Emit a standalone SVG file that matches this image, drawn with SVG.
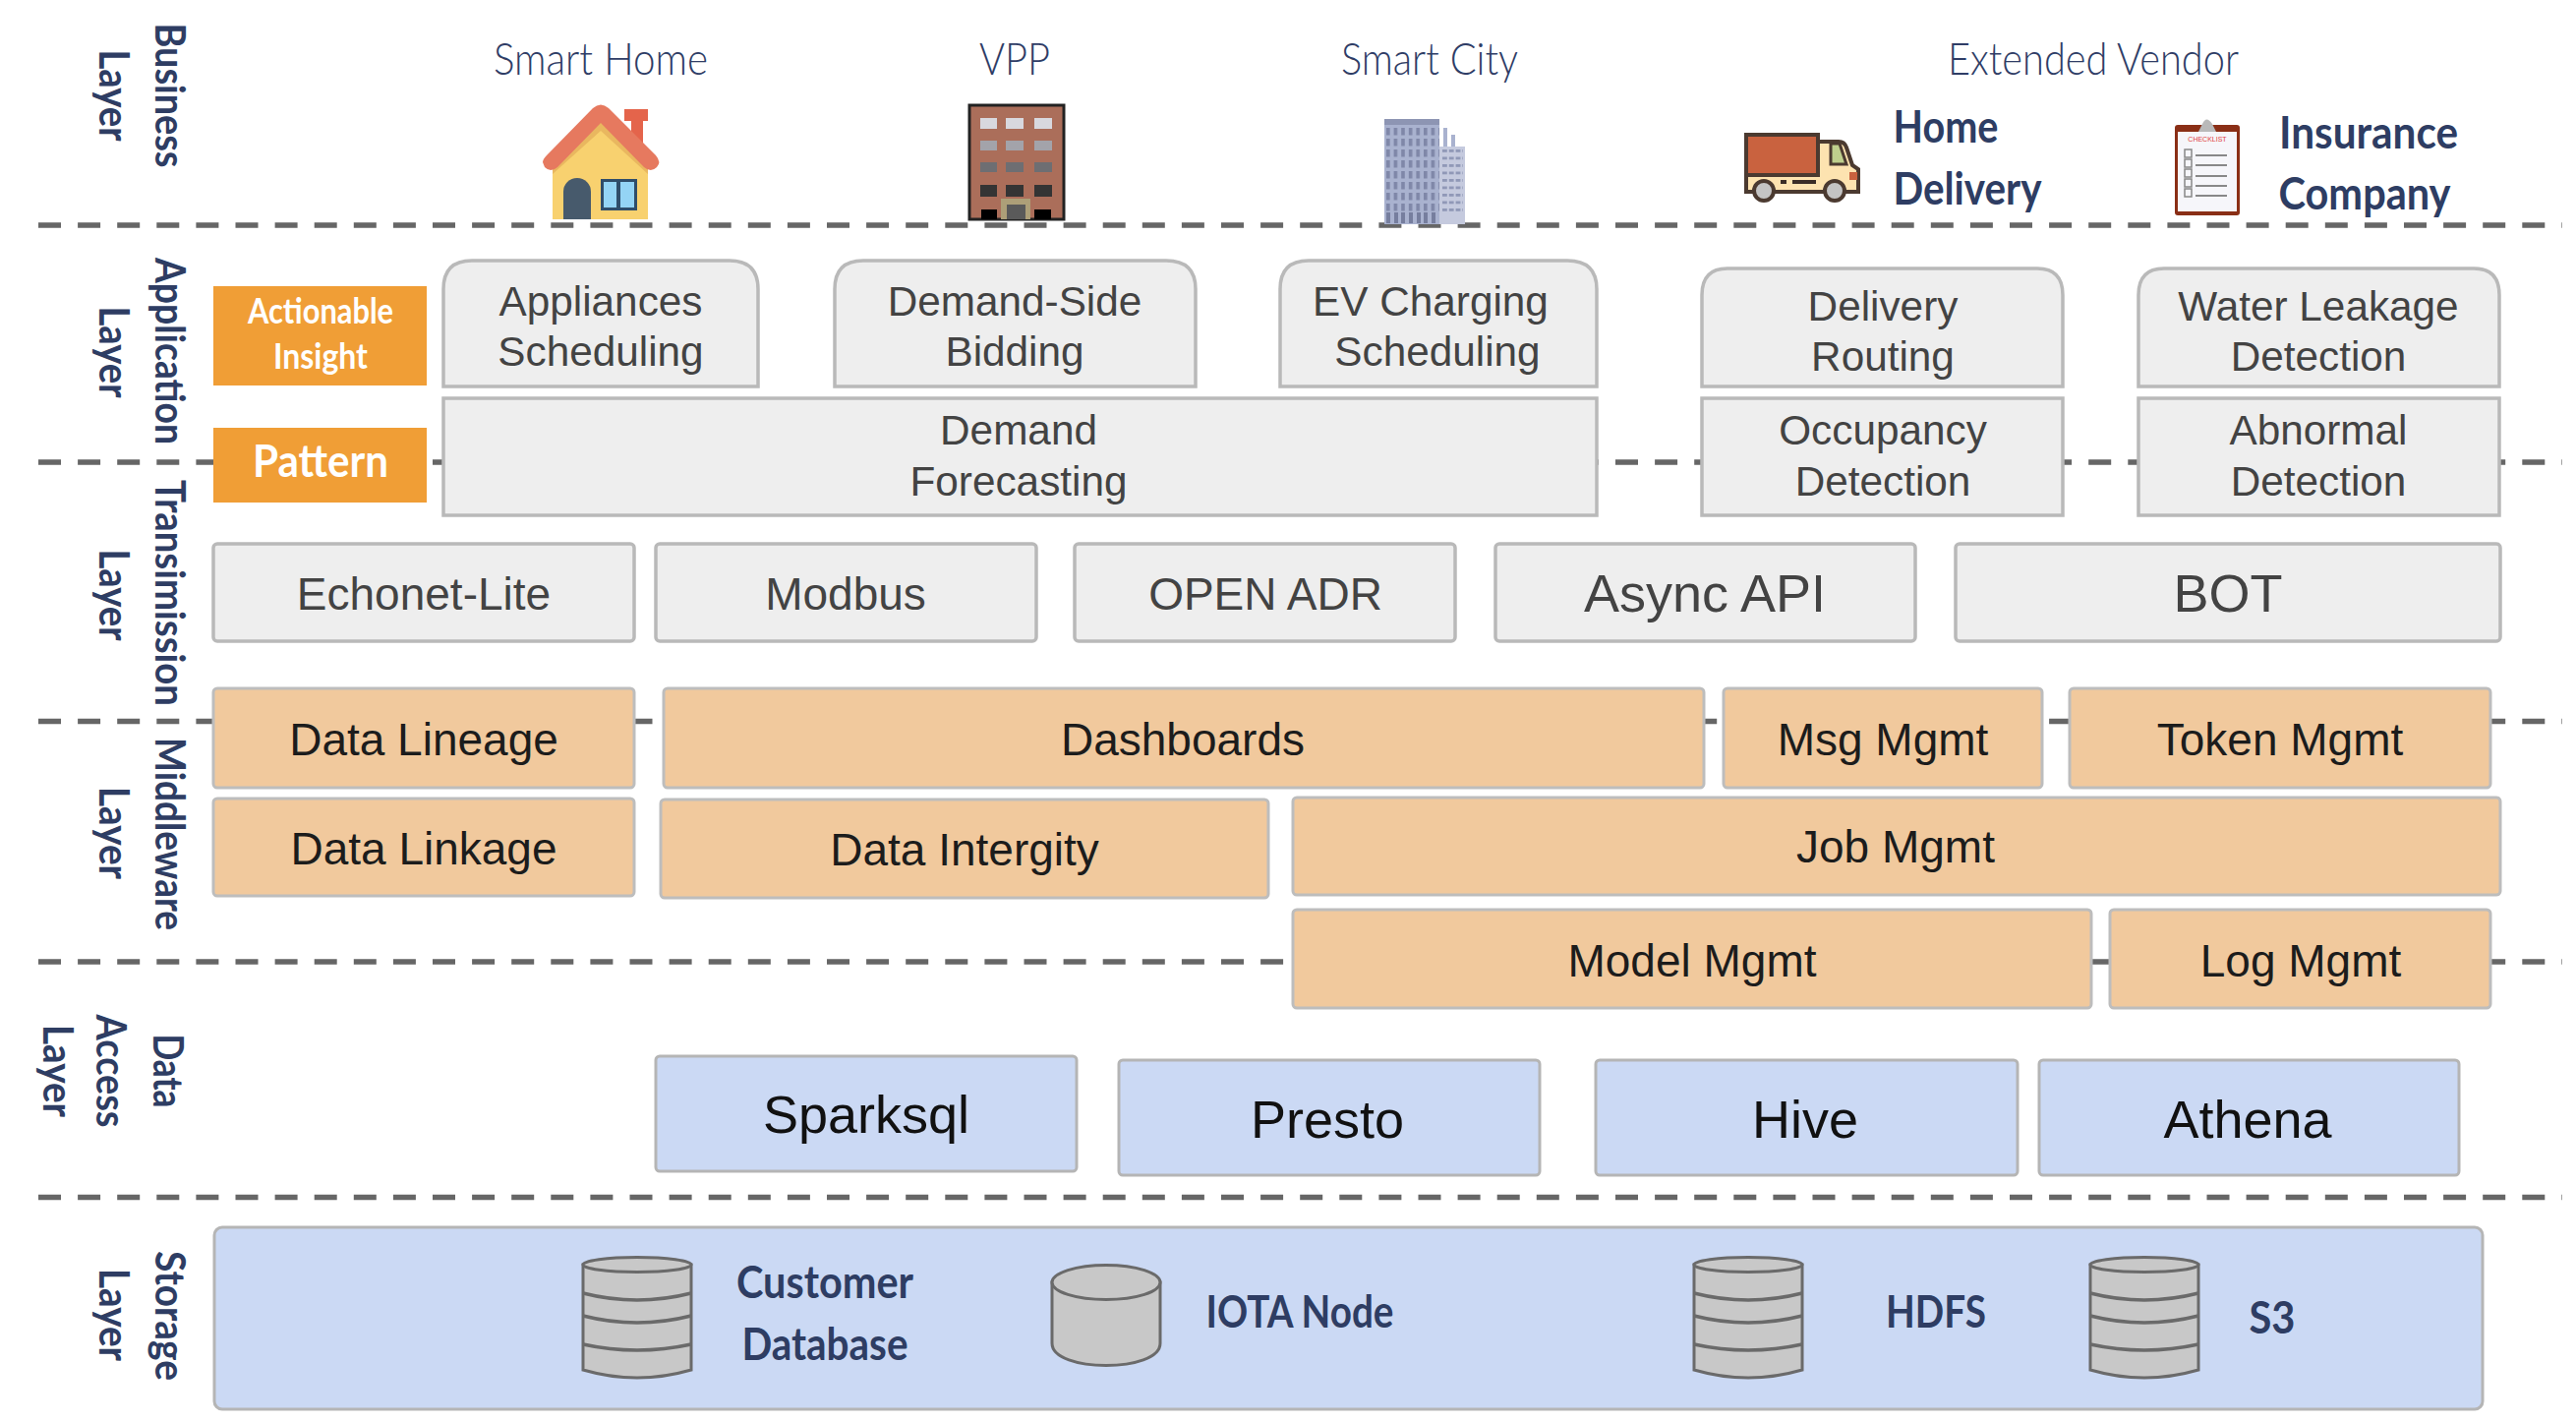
<svg xmlns="http://www.w3.org/2000/svg" width="2620" height="1446" viewBox="0 0 2620 1446">
<style>
text{font-family:"Liberation Sans",Arial,sans-serif;text-anchor:middle}
.g{fill:#eeeeee;stroke:#b9b9b9;stroke-width:3.5}
.o{fill:#f1c99d;stroke:#bdbdbd;stroke-width:3}
.b{fill:#cbd9f4;stroke:#b5b5b5;stroke-width:3}
.a{fill:#f09e36}
.t{fill:#434343;font-size:42.300px}
.tl{fill:#434343;font-size:46px}
.tb{fill:#434343;font-size:54px}
.m{fill:#1c1c1c;font-size:46px}
.q{fill:#111;font-size:54px}
.h{font-family:Lato,"Open Sans",sans-serif;font-weight:300;font-size:45px;fill:#2f3d66}
.n{font-family:Lato,"Open Sans",sans-serif;font-weight:700;font-size:45px;fill:#2e3d63}
.r{font-family:Lato,"Open Sans",sans-serif;font-weight:700;font-size:42px;fill:#2e3d63;text-anchor:middle}
.w{font-family:Lato,"Open Sans",sans-serif;font-weight:700;fill:#fff}
.dash{stroke:#666;stroke-width:5.500;stroke-dasharray:23 17.100;fill:none}
.cy{fill:#c8c8c8;stroke:#6a6a6a;stroke-width:3}
.cl{fill:none;stroke:#6a6a6a;stroke-width:3.500}
</style>
<defs>
<pattern id="cw" x="1410" y="130" width="7.600" height="11" patternUnits="userSpaceOnUse"><rect x="0" y="0" width="3.600" height="7.500" fill="#7f87a8"/></pattern>
<pattern id="cw2" x="1467" y="152" width="6.800" height="7.500" patternUnits="userSpaceOnUse"><rect x="0" y="0" width="4.800" height="2.800" fill="#9098b7"/></pattern>
<g id="stack">
<path class="cy" d="M0 8V115Q55 131 110 115V8Z"/>
<ellipse class="cy" cx="55" cy="8" rx="55" ry="7.500"/>
<path class="cl" d="M0 37Q55 51 110 37M0 60Q55 74 110 60M0 89Q55 101 110 89"/>
</g>
</defs>
<rect width="2620" height="1446" fill="#fff"/>
<g id="connectors">
<path class="dash" d="M39 229H2606"/>
<path class="dash" d="M39 470H2606"/>
<path class="dash" d="M39 733.500H2606"/>
<path class="dash" d="M39 978H2606"/>
<path class="dash" d="M39 1217.500H2606"/>
</g>
<g id="layer-labels">
<text class="r" transform="translate(158 97) rotate(90)" textLength="147" lengthAdjust="spacingAndGlyphs">Business</text>
<text class="r" transform="translate(101 97) rotate(90)" textLength="93" lengthAdjust="spacingAndGlyphs">Layer</text>
<text class="r" transform="translate(158 357) rotate(90)" textLength="190" lengthAdjust="spacingAndGlyphs">Application</text>
<text class="r" transform="translate(101 358) rotate(90)" textLength="93" lengthAdjust="spacingAndGlyphs">Layer</text>
<text class="r" transform="translate(158 603) rotate(90)" textLength="230" lengthAdjust="spacingAndGlyphs">Transimission</text>
<text class="r" transform="translate(101 605) rotate(90)" textLength="93" lengthAdjust="spacingAndGlyphs">Layer</text>
<text class="r" transform="translate(158 848) rotate(90)" textLength="196" lengthAdjust="spacingAndGlyphs">Middleware</text>
<text class="r" transform="translate(101 847) rotate(90)" textLength="94" lengthAdjust="spacingAndGlyphs">Layer</text>
<text class="r" transform="translate(156 1089) rotate(90)" textLength="75" lengthAdjust="spacingAndGlyphs">Data</text>
<text class="r" transform="translate(98 1089) rotate(90)" textLength="115" lengthAdjust="spacingAndGlyphs">Access</text>
<text class="r" transform="translate(44 1089) rotate(90)" textLength="94" lengthAdjust="spacingAndGlyphs">Layer</text>
<text class="r" transform="translate(158 1338) rotate(90)" textLength="132" lengthAdjust="spacingAndGlyphs">Storage</text>
<text class="r" transform="translate(101 1337) rotate(90)" textLength="94" lengthAdjust="spacingAndGlyphs">Layer</text>
</g>
<g id="smart-home">
<text class="h" x="611" y="76" textLength="218" lengthAdjust="spacingAndGlyphs">Smart Home</text>
<rect x="642" y="120" width="12" height="30" fill="#e4644b"/>
<rect x="635" y="111" width="24" height="12" fill="#e4644b"/>
<path d="M562 223V168L611 118L659 168V223Z" fill="#f8d16f"/>
<path d="M562 177V160L611 118L659 160V177L611 133Z" fill="#e9b75f"/>
<path d="M552 165Q552 162 556 158L603 110Q611 103 619 110L667 158Q673 165 668 170Q662 176 655 170L611 125L567 170Q560 176 554 170Z" fill="#e6795f"/>
<path d="M573 223V195A14 14 0 0 1 601 195V223Z" fill="#475a6c"/>
<rect x="611" y="182" width="37" height="32" fill="#2f4d6a"/>
<rect x="614" y="185" width="13" height="26" fill="#94d4f5"/>
<rect x="631" y="185" width="14" height="26" fill="#94d4f5"/>
</g>
<g id="vpp">
<text class="h" x="1032" y="76" textLength="72" lengthAdjust="spacingAndGlyphs">VPP</text>
<rect x="986" y="107" width="96" height="116" fill="#ab6e5a" stroke="#222" stroke-width="3"/>
<g fill="#d8d8de"><rect x="997" y="120" width="17" height="11"/><rect x="1023" y="120" width="18" height="11"/><rect x="1052" y="120" width="18" height="11"/></g>
<g fill="#a3a3aa"><rect x="997" y="143" width="17" height="10"/><rect x="1023" y="143" width="18" height="10"/><rect x="1052" y="143" width="18" height="10"/></g>
<g fill="#6e6e72"><rect x="997" y="165" width="17" height="10"/><rect x="1023" y="165" width="18" height="10"/><rect x="1052" y="165" width="18" height="10"/></g>
<g fill="#343434"><rect x="997" y="188" width="17" height="12"/><rect x="1023" y="188" width="18" height="12"/><rect x="1052" y="188" width="18" height="12"/></g>
<rect x="998" y="213" width="16" height="10" fill="#000"/><rect x="1052" y="213" width="17" height="10" fill="#000"/>
<rect x="1018" y="202" width="30" height="21" fill="#ad9f78"/><rect x="1024" y="208" width="19" height="15" fill="#5a5a5a"/>
</g>
<g id="smart-city">
<text class="h" x="1454" y="76" textLength="180" lengthAdjust="spacingAndGlyphs">Smart City</text>
<rect x="1468" y="130" width="4" height="22" fill="#a9b2cf"/><rect x="1476" y="137" width="4" height="15" fill="#a9b2cf"/>
<rect x="1408" y="121" width="56" height="107" fill="#a9b2cf"/>
<rect x="1408" y="121" width="56" height="6" fill="#8d95b3"/>
<rect x="1410" y="130" width="54" height="85" fill="url(#cw)"/>
<g fill="#767e9e"><rect x="1410" y="216" width="4" height="11"/><rect x="1418" y="216" width="4" height="11"/><rect x="1425" y="216" width="4" height="11"/><rect x="1433" y="216" width="4" height="11"/><rect x="1441" y="216" width="4" height="11"/><rect x="1448" y="216" width="4" height="11"/><rect x="1456" y="216" width="4" height="11"/></g>
<rect x="1464" y="149" width="26" height="79" fill="#c5cade"/>
<rect x="1467" y="152" width="21" height="65" fill="url(#cw2)"/>
</g>
<g id="extended-vendor"><text class="h" x="2129" y="76" textLength="296" lengthAdjust="spacingAndGlyphs">Extended Vendor</text></g>
<g id="home-delivery">
<path d="M1849 144H1870Q1876 144 1878 150L1884 168L1890 172V195H1776V178H1849Z" fill="#fde3b0" stroke="#4b3a30" stroke-width="4"/>
<rect x="1776" y="137" width="73" height="41" fill="#c9623f" stroke="#4b3a30" stroke-width="4"/>
<path d="M1862 146H1871L1878 167H1862Z" fill="#bfcf8d" stroke="#4b3a30" stroke-width="3"/>
<path d="M1823 185H1847M1811 185H1817" stroke="#3a2d26" stroke-width="4"/>
<rect x="1881" y="175" width="8" height="8" fill="#c9623f"/>
<circle cx="1794" cy="194" r="10" fill="#c4c4c4" stroke="#4b3a30" stroke-width="4"/>
<circle cx="1866" cy="194" r="10" fill="#c4c4c4" stroke="#4b3a30" stroke-width="4"/>
<text class="n" x="1979" y="145" textLength="107" lengthAdjust="spacingAndGlyphs">Home</text>
<text class="n" x="2001" y="208" textLength="151" lengthAdjust="spacingAndGlyphs">Delivery</text>
</g>
<g id="insurance-company">
<rect x="2212" y="127" width="66" height="92" rx="3" fill="#8a2f16"/>
<rect x="2215" y="134" width="60" height="81" fill="#f6f6fa"/>
<path d="M2236 134L2240 126Q2244 117 2250 126L2254 134Z" fill="#b9b9b9"/>
<text x="2245" y="144" style="font-size:7px;fill:#e03c3c">CHECKLIST</text>
<g fill="none" stroke="#888" stroke-width="1.500"><rect x="2222" y="152" width="7" height="8"/><rect x="2222" y="162" width="7" height="8"/><rect x="2222" y="172" width="7" height="8"/><rect x="2222" y="182" width="7" height="8"/><rect x="2222" y="192" width="7" height="8"/></g>
<path d="M2233 158H2265M2233 168H2265M2233 179H2265M2233 189H2265M2233 199H2265" stroke="#888" stroke-width="2"/>
<text class="n" x="2409" y="151" textLength="182" lengthAdjust="spacingAndGlyphs">Insurance</text>
<text class="n" x="2405" y="213" textLength="175" lengthAdjust="spacingAndGlyphs">Company</text>
</g>
<g id="actionable-insight"><rect class="a" x="217" y="291" width="217" height="101"/>
<text class="w" x="326" y="329" font-size="36" textLength="148" lengthAdjust="spacingAndGlyphs">Actionable</text>
<text class="w" x="326" y="375" font-size="36" textLength="96" lengthAdjust="spacingAndGlyphs">Insight</text></g>
<g id="pattern"><rect class="a" x="217" y="435" width="217" height="76"/><text class="w" x="326" y="485" font-size="45" textLength="138" lengthAdjust="spacingAndGlyphs">Pattern</text></g>
<g id="appliances-scheduling"><path class="g" d="M451 393V294Q451 265 480 265H742Q771 265 771 294V393Z"/><text class="t" x="611" y="321">Appliances</text><text class="t" x="611" y="372">Scheduling</text></g>
<g id="demand-side-bidding"><path class="g" d="M849 393V294Q849 265 878 265H1186Q1216 265 1216 294V393Z"/><text class="t" x="1032" y="321">Demand-Side</text><text class="t" x="1032" y="372">Bidding</text></g>
<g id="ev-charging"><path class="g" d="M1302 393V294Q1302 265 1331 265H1594Q1624 265 1624 294V393Z"/><text class="t" x="1455" y="321">EV Charging</text><text class="t" x="1462" y="372">Scheduling</text></g>
<g id="delivery-routing"><path class="g" d="M1731 393V300Q1731 273 1757 273H2072Q2098 273 2098 300V393Z"/><text class="t" x="1915" y="326">Delivery</text><text class="t" x="1915" y="377">Routing</text></g>
<g id="water-leakage"><path class="g" d="M2175 393V300Q2175 273 2201 273H2516Q2542 273 2542 300V393Z"/><text class="t" x="2358" y="326">Water Leakage</text><text class="t" x="2358" y="377">Detection</text></g>
<g id="demand-forecasting"><rect class="g" x="451" y="405" width="1173" height="119"/><text class="t" x="1036" y="452">Demand</text><text class="t" x="1036" y="504">Forecasting</text></g>
<g id="occupancy"><rect class="g" x="1731" y="405" width="367" height="119"/><text class="t" x="1915" y="452">Occupancy</text><text class="t" x="1915" y="504">Detection</text></g>
<g id="abnormal"><rect class="g" x="2175" y="405" width="367" height="119"/><text class="t" x="2358" y="452">Abnormal</text><text class="t" x="2358" y="504">Detection</text></g>
<g id="echonet"><rect class="g" x="217" y="553" width="428" height="99" rx="4"/><text class="tl" x="431" y="620">Echonet-Lite</text></g>
<g id="modbus"><rect class="g" x="667" y="553" width="387" height="99" rx="4"/><text class="tl" x="860" y="620">Modbus</text></g>
<g id="open-adr"><rect class="g" x="1093" y="553" width="387" height="99" rx="4"/><text class="tl" x="1287" y="620">OPEN ADR</text></g>
<g id="async-api"><rect class="g" x="1521" y="553" width="427" height="99" rx="4"/><text class="tb" x="1734" y="622">Async API</text></g>
<g id="bot"><rect class="g" x="1989" y="553" width="554" height="99" rx="4"/><text class="tb" x="2266" y="622">BOT</text></g>
<g id="data-lineage"><rect class="o" x="217" y="700" width="428" height="101" rx="4"/><text class="m" x="431" y="768">Data Lineage</text></g>
<g id="dashboards"><rect class="o" x="675" y="700" width="1058" height="101" rx="4"/><text class="m" x="1203" y="768">Dashboards</text></g>
<g id="msg-mgmt"><rect class="o" x="1753" y="700" width="324" height="101" rx="4"/><text class="m" x="1915" y="768">Msg Mgmt</text></g>
<g id="token-mgmt"><rect class="o" x="2105" y="700" width="428" height="101" rx="4"/><text class="m" x="2319" y="768">Token Mgmt</text></g>
<g id="data-linkage"><rect class="o" x="217" y="812" width="428" height="99" rx="4"/><text class="m" x="431" y="879">Data Linkage</text></g>
<g id="data-integrity"><rect class="o" x="672" y="813" width="618" height="100" rx="4"/><text class="m" x="981" y="880">Data Intergity</text></g>
<g id="job-mgmt"><rect class="o" x="1315" y="811" width="1228" height="99" rx="4"/><text class="m" x="1928" y="877">Job Mgmt</text></g>
<g id="model-mgmt"><rect class="o" x="1315" y="925" width="812" height="100" rx="4"/><text class="m" x="1721" y="993">Model Mgmt</text></g>
<g id="log-mgmt"><rect class="o" x="2146" y="925" width="387" height="100" rx="4"/><text class="m" x="2340" y="993">Log Mgmt</text></g>
<g id="sparksql"><rect class="b" x="667" y="1074" width="428" height="117" rx="4"/><text class="q" x="881" y="1152">Sparksql</text></g>
<g id="presto"><rect class="b" x="1138" y="1078" width="428" height="117" rx="4"/><text class="q" x="1350" y="1157">Presto</text></g>
<g id="hive"><rect class="b" x="1623" y="1078" width="429" height="117" rx="4"/><text class="q" x="1836" y="1157">Hive</text></g>
<g id="athena"><rect class="b" x="2074" y="1078" width="427" height="117" rx="4"/><text class="q" x="2286" y="1157">Athena</text></g>
<g id="storage">
<rect class="b" x="218" y="1248" width="2307" height="185" rx="8"/>
<g id="customer-database"><use href="#stack" x="593" y="1278"/>
<text class="n" x="839" y="1320" textLength="180" lengthAdjust="spacingAndGlyphs">Customer</text><text class="n" x="839" y="1383" textLength="169" lengthAdjust="spacingAndGlyphs">Database</text></g>
<g id="iota-node"><path class="cy" d="M1070 1304V1366C1070 1396 1180 1396 1180 1366V1304Z"/><ellipse class="cy" cx="1125" cy="1304" rx="55" ry="17.500"/>
<text class="n" x="1322" y="1350" textLength="191" lengthAdjust="spacingAndGlyphs">IOTA Node</text></g>
<g id="hdfs"><use href="#stack" x="1723" y="1278"/><text class="n" x="1969" y="1350" textLength="102" lengthAdjust="spacingAndGlyphs">HDFS</text></g>
<g id="s3"><use href="#stack" x="2126" y="1278"/><text class="n" x="2311" y="1356" textLength="47" lengthAdjust="spacingAndGlyphs">S3</text></g>
</g>
</svg>
